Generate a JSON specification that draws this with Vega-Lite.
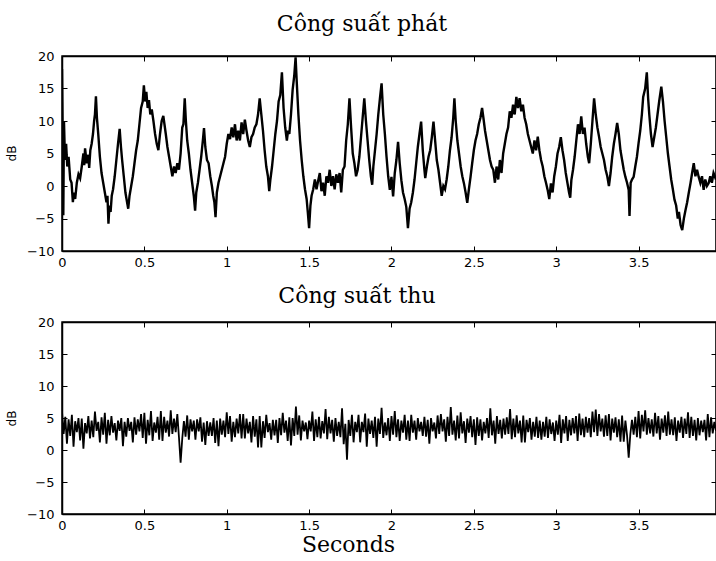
{
  "$schema": "https://vega.github.io/schema/vega-lite/v6.json",
  "background": "white",
  "padding": {"left": 4, "top": 12, "right": 0, "bottom": 0},
  "autosize": {"type": "pad"},
  "spacing": 14,
  "config": {
    "view": {"stroke": "black", "strokeWidth": 1.5},
    "axis": {
      "labelFont": "DejaVu Sans", "labelFontSize": 13, "labelColor": "black",
      "titleFont": "DejaVu Sans", "titleFontSize": 12, "titleFontWeight": "normal", "titleColor": "black",
      "domainColor": "black", "domainWidth": 1.5, "tickColor": "black", "tickSize": -5,
      "grid": false, "format": "~g"
    },
    "title": {"font": "DejaVu Serif", "fontSize": 22, "fontWeight": "normal", "color": "black"}
  },
  "datasets": {
    "tx": [
      {"t":0.000,"p":18.0},{"t":0.004,"p":8.0},{"t":0.008,"p":-4.5},{"t":0.012,"p":10.0},{"t":0.018,"p":4.0},{"t":0.025,"p":6.5},{"t":0.032,"p":3.0},{"t":0.040,"p":4.5},{"t":0.050,"p":1.0},{"t":0.058,"p":0.5},{"t":0.066,"p":-2.5},{"t":0.072,"p":-1.0},{"t":0.080,"p":-2.0},{"t":0.090,"p":0.5},{"t":0.100,"p":1.8},{"t":0.110,"p":1.2},{"t":0.120,"p":3.0},{"t":0.130,"p":5.0},{"t":0.135,"p":3.2},{"t":0.140,"p":5.8},{"t":0.150,"p":3.5},{"t":0.160,"p":4.8},{"t":0.165,"p":2.8},{"t":0.172,"p":5.5},{"t":0.180,"p":6.5},{"t":0.188,"p":8.0},{"t":0.195,"p":10.0},{"t":0.200,"p":11.0},{"t":0.206,"p":13.8},{"t":0.212,"p":10.5},{"t":0.220,"p":8.0},{"t":0.230,"p":4.5},{"t":0.240,"p":2.0},{"t":0.250,"p":0.5},{"t":0.260,"p":-1.0},{"t":0.270,"p":-2.5},{"t":0.276,"p":-1.5},{"t":0.282,"p":-5.8},{"t":0.288,"p":-3.0},{"t":0.295,"p":-4.0},{"t":0.302,"p":-1.5},{"t":0.310,"p":-0.5},{"t":0.320,"p":1.5},{"t":0.330,"p":4.0},{"t":0.340,"p":6.5},{"t":0.350,"p":8.8},{"t":0.358,"p":6.0},{"t":0.365,"p":4.0},{"t":0.375,"p":1.5},{"t":0.385,"p":-1.0},{"t":0.395,"p":-2.5},{"t":0.402,"p":-3.5},{"t":0.410,"p":-1.5},{"t":0.420,"p":0.0},{"t":0.430,"p":1.5},{"t":0.440,"p":3.5},{"t":0.450,"p":5.5},{"t":0.460,"p":7.0},{"t":0.470,"p":9.5},{"t":0.480,"p":12.0},{"t":0.490,"p":13.0},{"t":0.497,"p":15.5},{"t":0.505,"p":13.0},{"t":0.512,"p":14.5},{"t":0.520,"p":12.0},{"t":0.528,"p":13.2},{"t":0.536,"p":11.0},{"t":0.545,"p":11.8},{"t":0.555,"p":10.0},{"t":0.565,"p":8.0},{"t":0.575,"p":6.5},{"t":0.585,"p":5.5},{"t":0.595,"p":8.0},{"t":0.605,"p":10.0},{"t":0.615,"p":10.8},{"t":0.622,"p":9.5},{"t":0.630,"p":8.0},{"t":0.640,"p":6.0},{"t":0.650,"p":4.5},{"t":0.660,"p":3.0},{"t":0.670,"p":1.5},{"t":0.680,"p":3.0},{"t":0.690,"p":2.0},{"t":0.700,"p":3.5},{"t":0.710,"p":2.5},{"t":0.720,"p":5.0},{"t":0.730,"p":9.0},{"t":0.737,"p":9.5},{"t":0.745,"p":13.5},{"t":0.752,"p":10.0},{"t":0.760,"p":7.0},{"t":0.770,"p":5.0},{"t":0.780,"p":2.5},{"t":0.790,"p":0.5},{"t":0.800,"p":-1.5},{"t":0.808,"p":-3.8},{"t":0.815,"p":-1.0},{"t":0.825,"p":0.5},{"t":0.835,"p":2.5},{"t":0.845,"p":4.5},{"t":0.855,"p":7.0},{"t":0.862,"p":8.9},{"t":0.870,"p":6.0},{"t":0.880,"p":4.0},{"t":0.890,"p":3.5},{"t":0.900,"p":1.5},{"t":0.910,"p":0.0},{"t":0.918,"p":-1.5},{"t":0.925,"p":-2.5},{"t":0.932,"p":-4.8},{"t":0.940,"p":-1.0},{"t":0.950,"p":0.5},{"t":0.960,"p":1.5},{"t":0.970,"p":2.5},{"t":0.980,"p":3.5},{"t":0.990,"p":4.5},{"t":1.000,"p":6.5},{"t":1.010,"p":8.0},{"t":1.020,"p":7.2},{"t":1.030,"p":9.0},{"t":1.040,"p":7.5},{"t":1.050,"p":9.5},{"t":1.060,"p":7.0},{"t":1.070,"p":8.5},{"t":1.080,"p":7.0},{"t":1.090,"p":9.8},{"t":1.100,"p":8.0},{"t":1.110,"p":10.2},{"t":1.120,"p":8.5},{"t":1.130,"p":7.0},{"t":1.140,"p":6.0},{"t":1.150,"p":7.5},{"t":1.160,"p":8.0},{"t":1.170,"p":9.0},{"t":1.180,"p":9.5},{"t":1.190,"p":11.0},{"t":1.200,"p":13.5},{"t":1.210,"p":11.0},{"t":1.220,"p":8.5},{"t":1.230,"p":5.5},{"t":1.240,"p":3.0},{"t":1.250,"p":1.5},{"t":1.258,"p":-0.8},{"t":1.265,"p":1.0},{"t":1.275,"p":3.0},{"t":1.285,"p":5.5},{"t":1.295,"p":8.0},{"t":1.305,"p":10.0},{"t":1.315,"p":13.0},{"t":1.325,"p":14.0},{"t":1.335,"p":17.5},{"t":1.345,"p":12.0},{"t":1.355,"p":9.0},{"t":1.365,"p":7.0},{"t":1.372,"p":8.5},{"t":1.380,"p":8.0},{"t":1.390,"p":11.0},{"t":1.400,"p":14.8},{"t":1.410,"p":17.0},{"t":1.418,"p":19.8},{"t":1.425,"p":16.0},{"t":1.435,"p":11.0},{"t":1.445,"p":7.0},{"t":1.455,"p":4.0},{"t":1.465,"p":1.5},{"t":1.475,"p":-0.5},{"t":1.485,"p":-2.0},{"t":1.492,"p":-4.0},{"t":1.500,"p":-6.5},{"t":1.508,"p":-3.0},{"t":1.515,"p":-1.5},{"t":1.525,"p":-0.5},{"t":1.535,"p":1.0},{"t":1.545,"p":-0.5},{"t":1.555,"p":0.8},{"t":1.565,"p":2.0},{"t":1.575,"p":-0.8},{"t":1.585,"p":0.5},{"t":1.595,"p":-1.5},{"t":1.605,"p":1.5},{"t":1.615,"p":0.5},{"t":1.625,"p":2.5},{"t":1.635,"p":0.0},{"t":1.645,"p":1.5},{"t":1.655,"p":-0.5},{"t":1.665,"p":1.8},{"t":1.675,"p":0.5},{"t":1.685,"p":2.0},{"t":1.695,"p":-1.0},{"t":1.705,"p":2.5},{"t":1.715,"p":3.0},{"t":1.725,"p":7.0},{"t":1.735,"p":9.5},{"t":1.745,"p":13.5},{"t":1.755,"p":9.0},{"t":1.765,"p":5.0},{"t":1.775,"p":3.5},{"t":1.785,"p":1.5},{"t":1.795,"p":2.5},{"t":1.805,"p":4.5},{"t":1.815,"p":7.5},{"t":1.825,"p":10.5},{"t":1.835,"p":13.5},{"t":1.845,"p":10.0},{"t":1.855,"p":7.0},{"t":1.865,"p":4.0},{"t":1.875,"p":1.5},{"t":1.883,"p":0.2},{"t":1.890,"p":3.0},{"t":1.900,"p":5.5},{"t":1.910,"p":8.0},{"t":1.920,"p":11.0},{"t":1.930,"p":13.5},{"t":1.940,"p":15.8},{"t":1.950,"p":11.0},{"t":1.960,"p":8.0},{"t":1.970,"p":4.5},{"t":1.980,"p":1.5},{"t":1.990,"p":-0.6},{"t":2.000,"p":1.4},{"t":2.010,"p":-1.6},{"t":2.020,"p":2.0},{"t":2.030,"p":4.0},{"t":2.040,"p":6.8},{"t":2.050,"p":3.5},{"t":2.060,"p":0.9},{"t":2.070,"p":-1.0},{"t":2.080,"p":-2.0},{"t":2.090,"p":-3.2},{"t":2.100,"p":-6.5},{"t":2.110,"p":-3.5},{"t":2.120,"p":-2.5},{"t":2.130,"p":-1.0},{"t":2.140,"p":1.0},{"t":2.150,"p":3.5},{"t":2.160,"p":6.0},{"t":2.170,"p":8.0},{"t":2.180,"p":9.9},{"t":2.190,"p":5.5},{"t":2.200,"p":2.5},{"t":2.205,"p":1.2},{"t":2.215,"p":3.0},{"t":2.225,"p":4.5},{"t":2.235,"p":5.5},{"t":2.245,"p":7.5},{"t":2.255,"p":9.9},{"t":2.265,"p":7.0},{"t":2.275,"p":4.0},{"t":2.285,"p":2.5},{"t":2.295,"p":0.5},{"t":2.305,"p":-1.5},{"t":2.315,"p":0.0},{"t":2.325,"p":-0.5},{"t":2.335,"p":1.0},{"t":2.345,"p":3.0},{"t":2.355,"p":5.5},{"t":2.365,"p":7.5},{"t":2.375,"p":10.5},{"t":2.382,"p":13.5},{"t":2.390,"p":10.0},{"t":2.400,"p":7.0},{"t":2.410,"p":5.0},{"t":2.420,"p":3.0},{"t":2.430,"p":1.5},{"t":2.440,"p":0.4},{"t":2.450,"p":-1.0},{"t":2.460,"p":-2.6},{"t":2.470,"p":-0.5},{"t":2.480,"p":1.4},{"t":2.490,"p":3.5},{"t":2.500,"p":5.5},{"t":2.510,"p":7.0},{"t":2.520,"p":8.0},{"t":2.530,"p":9.5},{"t":2.540,"p":10.5},{"t":2.550,"p":12.0},{"t":2.558,"p":10.5},{"t":2.568,"p":8.5},{"t":2.578,"p":7.0},{"t":2.588,"p":5.5},{"t":2.598,"p":4.0},{"t":2.608,"p":3.0},{"t":2.618,"p":2.5},{"t":2.628,"p":0.5},{"t":2.638,"p":3.0},{"t":2.648,"p":1.0},{"t":2.658,"p":4.0},{"t":2.668,"p":2.0},{"t":2.678,"p":5.0},{"t":2.688,"p":6.5},{"t":2.698,"p":8.0},{"t":2.708,"p":9.0},{"t":2.718,"p":11.5},{"t":2.728,"p":10.5},{"t":2.738,"p":12.5},{"t":2.748,"p":11.0},{"t":2.758,"p":13.7},{"t":2.768,"p":12.0},{"t":2.778,"p":13.5},{"t":2.788,"p":11.5},{"t":2.798,"p":12.5},{"t":2.808,"p":10.5},{"t":2.818,"p":9.5},{"t":2.828,"p":8.0},{"t":2.838,"p":7.0},{"t":2.848,"p":6.0},{"t":2.858,"p":5.0},{"t":2.868,"p":7.0},{"t":2.878,"p":5.5},{"t":2.888,"p":7.6},{"t":2.898,"p":5.5},{"t":2.908,"p":4.0},{"t":2.918,"p":3.0},{"t":2.928,"p":1.5},{"t":2.938,"p":0.5},{"t":2.948,"p":-0.6},{"t":2.958,"p":-2.0},{"t":2.968,"p":0.4},{"t":2.978,"p":-1.0},{"t":2.988,"p":1.5},{"t":2.998,"p":3.0},{"t":3.008,"p":5.0},{"t":3.018,"p":6.0},{"t":3.028,"p":7.5},{"t":3.038,"p":5.5},{"t":3.048,"p":4.0},{"t":3.058,"p":2.0},{"t":3.068,"p":0.5},{"t":3.078,"p":-1.0},{"t":3.085,"p":-1.8},{"t":3.092,"p":0.9},{"t":3.102,"p":2.5},{"t":3.112,"p":4.5},{"t":3.122,"p":7.0},{"t":3.132,"p":9.5},{"t":3.142,"p":8.0},{"t":3.152,"p":10.7},{"t":3.162,"p":8.0},{"t":3.172,"p":9.0},{"t":3.182,"p":6.5},{"t":3.192,"p":4.5},{"t":3.200,"p":3.5},{"t":3.210,"p":6.5},{"t":3.220,"p":10.0},{"t":3.230,"p":13.5},{"t":3.240,"p":11.0},{"t":3.250,"p":9.0},{"t":3.260,"p":7.6},{"t":3.270,"p":6.0},{"t":3.280,"p":5.0},{"t":3.290,"p":4.0},{"t":3.300,"p":2.5},{"t":3.310,"p":1.5},{"t":3.320,"p":0.0},{"t":3.330,"p":2.0},{"t":3.340,"p":4.5},{"t":3.350,"p":6.5},{"t":3.360,"p":8.0},{"t":3.370,"p":9.7},{"t":3.380,"p":8.0},{"t":3.390,"p":5.5},{"t":3.400,"p":4.0},{"t":3.410,"p":2.5},{"t":3.420,"p":1.4},{"t":3.430,"p":0.5},{"t":3.440,"p":-0.6},{"t":3.445,"p":-4.6},{"t":3.452,"p":0.5},{"t":3.460,"p":1.0},{"t":3.470,"p":1.4},{"t":3.480,"p":3.0},{"t":3.490,"p":4.5},{"t":3.500,"p":6.6},{"t":3.510,"p":8.5},{"t":3.520,"p":11.0},{"t":3.528,"p":13.7},{"t":3.540,"p":15.0},{"t":3.550,"p":17.5},{"t":3.558,"p":13.5},{"t":3.565,"p":11.0},{"t":3.575,"p":8.0},{"t":3.585,"p":6.0},{"t":3.595,"p":7.5},{"t":3.605,"p":9.0},{"t":3.615,"p":11.0},{"t":3.625,"p":13.0},{"t":3.638,"p":15.3},{"t":3.648,"p":13.0},{"t":3.658,"p":10.0},{"t":3.668,"p":7.5},{"t":3.678,"p":5.0},{"t":3.688,"p":3.0},{"t":3.698,"p":1.0},{"t":3.708,"p":-0.5},{"t":3.718,"p":-2.1},{"t":3.728,"p":-3.0},{"t":3.738,"p":-5.0},{"t":3.745,"p":-4.0},{"t":3.755,"p":-6.0},{"t":3.765,"p":-6.8},{"t":3.775,"p":-5.0},{"t":3.785,"p":-3.7},{"t":3.795,"p":-2.5},{"t":3.805,"p":-1.0},{"t":3.815,"p":0.4},{"t":3.825,"p":2.0},{"t":3.835,"p":3.5},{"t":3.845,"p":1.5},{"t":3.855,"p":2.5},{"t":3.865,"p":1.4},{"t":3.875,"p":0.5},{"t":3.885,"p":1.5},{"t":3.895,"p":-0.6},{"t":3.905,"p":1.0},{"t":3.915,"p":0.0},{"t":3.925,"p":0.4},{"t":3.935,"p":1.5},{"t":3.945,"p":0.5},{"t":3.955,"p":2.0},{"t":3.970,"p":1.0}
    ],
    "rx": [
      {"t":0.00,"p":6.0},{"t":0.01,"p":2.5},{"t":0.02,"p":5.2},{"t":0.03,"p":1.0},{"t":0.04,"p":4.8},{"t":0.05,"p":2.2},{"t":0.06,"p":5.5},{"t":0.07,"p":0.5},{"t":0.08,"p":4.5},{"t":0.09,"p":2.8},
      {"t":0.10,"p":5.0},{"t":0.11,"p":1.5},{"t":0.12,"p":4.9},{"t":0.13,"p":0.2},{"t":0.14,"p":4.2},{"t":0.15,"p":2.6},{"t":0.16,"p":5.3},{"t":0.17,"p":1.8},{"t":0.18,"p":4.6},{"t":0.19,"p":2.0},
      {"t":0.20,"p":6.0},{"t":0.21,"p":3.0},{"t":0.22,"p":4.4},{"t":0.23,"p":1.2},{"t":0.24,"p":5.1},{"t":0.25,"p":2.4},{"t":0.26,"p":5.8},{"t":0.27,"p":1.0},{"t":0.28,"p":4.7},{"t":0.29,"p":2.3},
      {"t":0.30,"p":5.3},{"t":0.31,"p":2.7},{"t":0.32,"p":4.2},{"t":0.33,"p":1.5},{"t":0.34,"p":4.6},{"t":0.35,"p":3.0},{"t":0.36,"p":5.0},{"t":0.37,"p":0.6},{"t":0.38,"p":4.4},{"t":0.39,"p":2.1},
      {"t":0.40,"p":5.0},{"t":0.41,"p":3.0},{"t":0.42,"p":4.4},{"t":0.43,"p":1.2},{"t":0.44,"p":5.1},{"t":0.45,"p":2.4},{"t":0.46,"p":4.8},{"t":0.47,"p":2.9},{"t":0.48,"p":5.6},{"t":0.49,"p":1.9},
      {"t":0.50,"p":5.8},{"t":0.51,"p":1.0},{"t":0.52,"p":4.7},{"t":0.53,"p":2.3},{"t":0.54,"p":6.1},{"t":0.55,"p":1.4},{"t":0.56,"p":4.3},{"t":0.57,"p":2.7},{"t":0.58,"p":5.2},{"t":0.59,"p":1.6},
      {"t":0.60,"p":6.1},{"t":0.61,"p":1.4},{"t":0.62,"p":5.2},{"t":0.63,"p":2.7},{"t":0.64,"p":4.6},{"t":0.65,"p":2.1},{"t":0.66,"p":6.2},{"t":0.67,"p":2.5},{"t":0.68,"p":4.9},{"t":0.69,"p":2.8},
      {"t":0.70,"p":5.6},{"t":0.71,"p":2.0},{"t":0.72,"p":-2.0},{"t":0.73,"p":1.8},{"t":0.74,"p":4.5},{"t":0.75,"p":2.1},{"t":0.76,"p":5.4},{"t":0.77,"p":1.6},{"t":0.78,"p":4.8},{"t":0.79,"p":2.9},
      {"t":0.80,"p":4.6},{"t":0.81,"p":1.6},{"t":0.82,"p":4.8},{"t":0.83,"p":2.9},{"t":0.84,"p":5.1},{"t":0.85,"p":1.3},{"t":0.86,"p":4.3},{"t":0.87,"p":0.8},{"t":0.88,"p":4.5},{"t":0.89,"p":2.2},
      {"t":0.90,"p":4.3},{"t":0.91,"p":2.2},{"t":0.92,"p":5.0},{"t":0.93,"p":1.1},{"t":0.94,"p":4.6},{"t":0.95,"p":0.6},{"t":0.96,"p":4.9},{"t":0.97,"p":2.4},{"t":0.98,"p":4.6},{"t":0.99,"p":2.0},
      {"t":1.00,"p":5.9},{"t":1.01,"p":2.5},{"t":1.02,"p":5.3},{"t":1.03,"p":1.3},{"t":1.04,"p":4.4},{"t":1.05,"p":2.0},{"t":1.06,"p":4.9},{"t":1.07,"p":2.6},{"t":1.08,"p":5.6},{"t":1.09,"p":1.8},
      {"t":1.10,"p":5.6},{"t":1.11,"p":1.8},{"t":1.12,"p":4.9},{"t":1.13,"p":2.6},{"t":1.14,"p":4.4},{"t":1.15,"p":1.2},{"t":1.16,"p":5.3},{"t":1.17,"p":2.1},{"t":1.18,"p":4.8},{"t":1.19,"p":0.4},
      {"t":1.20,"p":5.3},{"t":1.21,"p":0.4},{"t":1.22,"p":4.5},{"t":1.23,"p":1.9},{"t":1.24,"p":5.5},{"t":1.25,"p":2.8},{"t":1.26,"p":4.2},{"t":1.27,"p":1.6},{"t":1.28,"p":4.7},{"t":1.29,"p":2.3},
      {"t":1.30,"p":4.7},{"t":1.31,"p":1.1},{"t":1.32,"p":5.0},{"t":1.33,"p":2.3},{"t":1.34,"p":5.8},{"t":1.35,"p":2.7},{"t":1.36,"p":4.6},{"t":1.37,"p":1.4},{"t":1.38,"p":5.1},{"t":1.39,"p":0.7},
      {"t":1.40,"p":5.0},{"t":1.41,"p":2.2},{"t":1.42,"p":6.8},{"t":1.43,"p":2.4},{"t":1.44,"p":5.4},{"t":1.45,"p":1.5},{"t":1.46,"p":4.6},{"t":1.47,"p":2.9},{"t":1.48,"p":4.3},{"t":1.49,"p":1.7},
      {"t":1.50,"p":4.6},{"t":1.51,"p":2.9},{"t":1.52,"p":6.0},{"t":1.53,"p":1.4},{"t":1.54,"p":4.8},{"t":1.55,"p":2.0},{"t":1.56,"p":5.2},{"t":1.57,"p":1.8},{"t":1.58,"p":4.5},{"t":1.59,"p":2.6},
      {"t":1.60,"p":6.4},{"t":1.61,"p":1.7},{"t":1.62,"p":5.2},{"t":1.63,"p":2.6},{"t":1.64,"p":4.7},{"t":1.65,"p":1.3},{"t":1.66,"p":5.0},{"t":1.67,"p":2.2},{"t":1.68,"p":4.4},{"t":1.69,"p":2.0},
      {"t":1.70,"p":6.5},{"t":1.71,"p":0.9},{"t":1.72,"p":4.1},{"t":1.73,"p":-1.5},{"t":1.74,"p":4.7},{"t":1.75,"p":2.2},{"t":1.76,"p":5.5},{"t":1.77,"p":1.2},{"t":1.78,"p":4.4},{"t":1.79,"p":2.8},
      {"t":1.80,"p":5.5},{"t":1.81,"p":1.2},{"t":1.82,"p":4.4},{"t":1.83,"p":2.8},{"t":1.84,"p":5.7},{"t":1.85,"p":0.5},{"t":1.86,"p":4.9},{"t":1.87,"p":2.5},{"t":1.88,"p":4.6},{"t":1.89,"p":1.9},
      {"t":1.90,"p":5.2},{"t":1.91,"p":0.5},{"t":1.92,"p":4.9},{"t":1.93,"p":2.5},{"t":1.94,"p":6.6},{"t":1.95,"p":1.9},{"t":1.96,"p":4.3},{"t":1.97,"p":2.3},{"t":1.98,"p":5.0},{"t":1.99,"p":1.4},
      {"t":2.00,"p":5.3},{"t":2.01,"p":2.4},{"t":2.02,"p":6.1},{"t":2.03,"p":2.0},{"t":2.04,"p":4.8},{"t":2.05,"p":1.4},{"t":2.06,"p":4.6},{"t":2.07,"p":2.7},{"t":2.08,"p":5.5},{"t":2.09,"p":1.6},
      {"t":2.10,"p":4.6},{"t":2.11,"p":1.4},{"t":2.12,"p":5.5},{"t":2.13,"p":2.7},{"t":2.14,"p":4.6},{"t":2.15,"p":1.6},{"t":2.16,"p":5.0},{"t":2.17,"p":2.9},{"t":2.18,"p":4.4},{"t":2.19,"p":2.2},
      {"t":2.20,"p":5.2},{"t":2.21,"p":2.1},{"t":2.22,"p":4.7},{"t":2.23,"p":1.0},{"t":2.24,"p":5.0},{"t":2.25,"p":2.9},{"t":2.26,"p":4.3},{"t":2.27,"p":1.8},{"t":2.28,"p":5.4},{"t":2.29,"p":2.5},
      {"t":2.30,"p":5.6},{"t":2.31,"p":2.9},{"t":2.32,"p":4.8},{"t":2.33,"p":1.3},{"t":2.34,"p":5.2},{"t":2.35,"p":2.2},{"t":2.36,"p":6.7},{"t":2.37,"p":2.4},{"t":2.38,"p":4.6},{"t":2.39,"p":1.5},
      {"t":2.40,"p":5.4},{"t":2.41,"p":1.8},{"t":2.42,"p":5.9},{"t":2.43,"p":2.6},{"t":2.44,"p":4.5},{"t":2.45,"p":1.1},{"t":2.46,"p":4.9},{"t":2.47,"p":2.7},{"t":2.48,"p":5.3},{"t":2.49,"p":2.0},
      {"t":2.50,"p":4.8},{"t":2.51,"p":0.8},{"t":2.52,"p":5.1},{"t":2.53,"p":2.2},{"t":2.54,"p":4.8},{"t":2.55,"p":1.5},{"t":2.56,"p":4.4},{"t":2.57,"p":2.6},{"t":2.58,"p":5.0},{"t":2.59,"p":1.9},
      {"t":2.60,"p":6.5},{"t":2.61,"p":2.3},{"t":2.62,"p":4.6},{"t":2.63,"p":1.0},{"t":2.64,"p":5.3},{"t":2.65,"p":2.5},{"t":2.66,"p":4.7},{"t":2.67,"p":1.8},{"t":2.68,"p":4.9},{"t":2.69,"p":2.4},
      {"t":2.70,"p":5.1},{"t":2.71,"p":2.5},{"t":2.72,"p":6.4},{"t":2.73,"p":1.7},{"t":2.74,"p":4.9},{"t":2.75,"p":2.0},{"t":2.76,"p":5.4},{"t":2.77,"p":2.6},{"t":2.78,"p":4.6},{"t":2.79,"p":1.2},
      {"t":2.80,"p":5.4},{"t":2.81,"p":1.2},{"t":2.82,"p":4.7},{"t":2.83,"p":2.8},{"t":2.84,"p":5.0},{"t":2.85,"p":1.6},{"t":2.86,"p":4.4},{"t":2.87,"p":2.1},{"t":2.88,"p":5.2},{"t":2.89,"p":1.9},
      {"t":2.90,"p":4.6},{"t":2.91,"p":1.6},{"t":2.92,"p":4.4},{"t":2.93,"p":2.1},{"t":2.94,"p":5.2},{"t":2.95,"p":1.9},{"t":2.96,"p":4.8},{"t":2.97,"p":2.5},{"t":2.98,"p":4.3},{"t":2.99,"p":1.4},
      {"t":3.00,"p":4.6},{"t":3.01,"p":2.4},{"t":3.02,"p":5.5},{"t":3.03,"p":1.1},{"t":3.04,"p":4.8},{"t":3.05,"p":2.6},{"t":3.06,"p":5.3},{"t":3.07,"p":1.4},{"t":3.08,"p":4.7},{"t":3.09,"p":2.3},
      {"t":3.10,"p":5.0},{"t":3.11,"p":2.6},{"t":3.12,"p":5.3},{"t":3.13,"p":1.4},{"t":3.14,"p":5.7},{"t":3.15,"p":2.3},{"t":3.16,"p":4.9},{"t":3.17,"p":2.0},{"t":3.18,"p":5.2},{"t":3.19,"p":2.7},
      {"t":3.20,"p":5.0},{"t":3.21,"p":2.0},{"t":3.22,"p":6.0},{"t":3.23,"p":2.8},{"t":3.24,"p":6.3},{"t":3.25,"p":2.2},{"t":3.26,"p":5.6},{"t":3.27,"p":2.9},{"t":3.28,"p":4.9},{"t":3.29,"p":2.1},
      {"t":3.30,"p":5.4},{"t":3.31,"p":2.2},{"t":3.32,"p":5.6},{"t":3.33,"p":1.5},{"t":3.34,"p":4.9},{"t":3.35,"p":2.7},{"t":3.36,"p":5.1},{"t":3.37,"p":2.0},{"t":3.38,"p":4.8},{"t":3.39,"p":1.3},
      {"t":3.40,"p":5.4},{"t":3.41,"p":1.3},{"t":3.42,"p":4.6},{"t":3.43,"p":2.3},{"t":3.44,"p":-1.2},{"t":3.45,"p":2.5},{"t":3.46,"p":4.7},{"t":3.47,"p":2.4},{"t":3.48,"p":5.2},{"t":3.49,"p":2.0},
      {"t":3.50,"p":6.1},{"t":3.51,"p":1.8},{"t":3.52,"p":5.5},{"t":3.53,"p":2.9},{"t":3.54,"p":6.2},{"t":3.55,"p":2.4},{"t":3.56,"p":5.0},{"t":3.57,"p":2.6},{"t":3.58,"p":4.8},{"t":3.59,"p":2.1},
      {"t":3.60,"p":5.8},{"t":3.61,"p":2.6},{"t":3.62,"p":5.3},{"t":3.63,"p":1.6},{"t":3.64,"p":4.9},{"t":3.65,"p":2.7},{"t":3.66,"p":5.4},{"t":3.67,"p":2.2},{"t":3.68,"p":6.0},{"t":3.69,"p":2.4},
      {"t":3.70,"p":4.8},{"t":3.71,"p":2.3},{"t":3.72,"p":5.1},{"t":3.73,"p":1.4},{"t":3.74,"p":4.6},{"t":3.75,"p":2.7},{"t":3.76,"p":5.2},{"t":3.77,"p":1.9},{"t":3.78,"p":4.9},{"t":3.79,"p":2.5},
      {"t":3.80,"p":5.9},{"t":3.81,"p":1.9},{"t":3.82,"p":5.2},{"t":3.83,"p":2.2},{"t":3.84,"p":4.7},{"t":3.85,"p":1.5},{"t":3.86,"p":5.0},{"t":3.87,"p":2.3},{"t":3.88,"p":4.6},{"t":3.89,"p":2.8},
      {"t":3.90,"p":4.7},{"t":3.91,"p":1.5},{"t":3.92,"p":5.6},{"t":3.93,"p":2.0},{"t":3.94,"p":5.1},{"t":3.95,"p":2.6},{"t":3.96,"p":4.4},{"t":3.97,"p":3.0}
    ]
  },
  "vconcat": [
    {
      "title": {"text": "Công suất phát", "dx": -27, "offset": 14},
      "width": 654, "height": 195,
      "data": {"name": "tx"},
      "layer": [
        {
          "mark": {"type": "line", "color": "black", "strokeWidth": 2.4, "clip": true},
          "encoding": {
            "x": {"field": "t", "type": "quantitative", "scale": {"domain": [0, 3.97], "nice": false, "zero": false},
                  "axis": {"values": [0, 0.5, 1, 1.5, 2, 2.5, 3, 3.5], "title": null, "labelPadding": 10, "labelFlush": false}},
            "y": {"field": "p", "type": "quantitative", "scale": {"domain": [-10, 20], "nice": false},
                  "axis": {"values": [-10, -5, 0, 5, 10, 15, 20], "title": "dB", "labelPadding": 13, "titleX": -44, "titleY": 97, "labelFlush": false}}
          }
        },
        {
          "mark": {"type": "line", "opacity": 0},
          "encoding": {
            "x": {"field": "t", "type": "quantitative", "axis": {"orient": "top", "values": [0.5, 1, 1.5, 2, 2.5, 3, 3.5], "labels": false, "title": null}},
            "y": {"field": "p", "type": "quantitative", "axis": {"orient": "right", "values": [-5, 0, 5, 10, 15], "labels": false, "title": null}}
          }
        }
      ],
      "resolve": {"axis": {"x": "independent", "y": "independent"}}
    },
    {
      "title": {"text": "Công suất thu", "dx": -32, "offset": 8},
      "width": 654, "height": 192,
      "data": {"name": "rx"},
      "layer": [
        {
          "mark": {"type": "line", "color": "black", "strokeWidth": 1.8, "clip": true},
          "encoding": {
            "x": {"field": "t", "type": "quantitative", "scale": {"domain": [0, 3.97], "nice": false, "zero": false},
                  "axis": {"values": [0, 0.5, 1, 1.5, 2, 2.5, 3, 3.5], "title": "Seconds", "titleFont": "DejaVu Serif", "titleFontSize": 22, "titleX": 286, "titleAlign": "center", "titlePadding": 2, "labelPadding": 10, "labelFlush": false}},
            "y": {"field": "p", "type": "quantitative", "scale": {"domain": [-10, 20], "nice": false},
                  "axis": {"values": [-10, -5, 0, 5, 10, 15, 20], "title": "dB", "labelPadding": 13, "titleX": -44, "titleY": 96, "labelFlush": false}}
          }
        },
        {
          "mark": {"type": "line", "opacity": 0},
          "encoding": {
            "x": {"field": "t", "type": "quantitative", "axis": {"orient": "top", "values": [0.5, 1, 1.5, 2, 2.5, 3, 3.5], "labels": false, "title": null}},
            "y": {"field": "p", "type": "quantitative", "axis": {"orient": "right", "values": [-5, 0, 5, 10, 15], "labels": false, "title": null}}
          }
        }
      ],
      "resolve": {"axis": {"x": "independent", "y": "independent"}}
    }
  ]
}
